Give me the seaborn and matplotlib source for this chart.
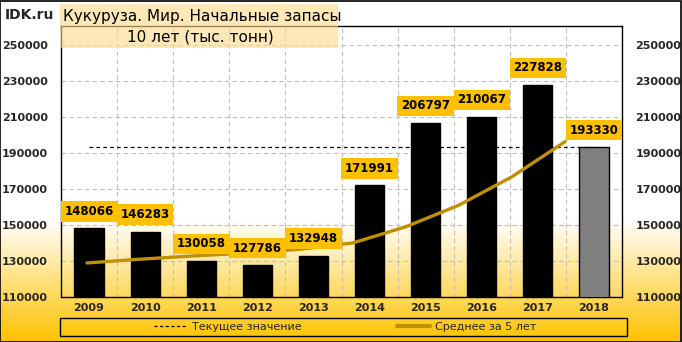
import numpy as np
import matplotlib
matplotlib.use("Agg")
import matplotlib.pyplot as plt
from matplotlib.colors import LinearSegmentedColormap
from matplotlib.patches import Rectangle
from matplotlib.lines import Line2D
import seaborn as sns

# === Data ===
years = ["2009", "2010", "2011", "2012", "2013", "2014", "2015", "2016", "2017", "2018"]
stocks = [148066, 146283, 130058, 127786, 132948, 171991, 206797, 210067, 227828, 193330]
ma5 = [128900, 131000, 132800, 134400, 136500, 140000, 149000, 161000, 176800, 196300]
current_value = 193330
y_ticks = [110000, 130000, 150000, 170000, 190000, 210000, 230000, 250000]

BAR_BLACK = "#000000"
BAR_GRAY = "#808080"
GOLD = "#BF9000"
LABEL_BG = "#FFC000"

sns.set_style("white")
plt.rcParams["font.family"] = ["DejaVu Sans"]

fig = plt.figure(figsize=(6.82, 3.42), dpi=100)

# === Background gradient (white -> amber toward the bottom) ===
bg = fig.add_axes([0, 0, 1, 1], zorder=-10)
frac = np.linspace(0, 1, 342)
shade = np.clip((frac - 0.64) / 0.36, 0, 1) ** 1.0
cmap = LinearSegmentedColormap.from_list("bg", ["#FFFFFF", "#FFC200"])
bg.imshow(shade[:, None], aspect="auto", cmap=cmap, vmin=0, vmax=1, extent=[0, 1, 0, 1])
bg.axis("off")
fig.patches.append(Rectangle((0.0005, 0.001), 0.998, 0.997, transform=fig.transFigure,
                             fill=False, edgecolor="black", lw=1.2))

# === Main axes ===
ax = fig.add_axes([61 / 682, 45 / 342, 561 / 682, 271 / 342])
ax.set_facecolor("none")

colors = {y: BAR_BLACK for y in years}
colors[years[-1]] = BAR_GRAY
sns.barplot(x=years, y=stocks, hue=years, palette=colors, legend=False,
            width=0.52, edgecolor="black", linewidth=1, ax=ax, zorder=3)

ax.hlines(current_value, 0, len(years) - 1, colors="black", linestyles=(0, (3, 2.5)),
          lw=0.9, zorder=2)

ax.set_xlim(-0.5, len(years) - 0.5)
ax.set_ylim(110000, 260500)
ax.set_yticks(y_ticks)
ax.set_yticklabels([str(v) for v in y_ticks])
ax.set_xticks(range(len(years)))
ax.set_xticklabels(years)
ax.set_xticks(np.arange(len(years) + 1) - 0.5, minor=True)
ax.tick_params(axis="y", which="both", length=0, pad=9.5, labelright=True,
               labelsize=8)
ax.tick_params(axis="x", which="both", length=0, pad=4.5, labelsize=8)
for lab in ax.get_xticklabels() + ax.get_yticklabels():
    lab.set_fontweight("bold")
for t in ax.yaxis.get_major_ticks():
    t.label2.set_fontweight("bold")
ax.grid(axis="y", which="major", color="#BFBFBF", ls=(0, (4, 3)), lw=0.8, zorder=0)
ax.grid(axis="x", which="minor", color="#BFBFBF", ls=(0, (4, 3)), lw=0.8, zorder=0)
ax.set_axisbelow(True)
ax.set_xlabel("")
ax.set_ylabel("")
for s in ax.spines.values():
    s.set_color("black")
    s.set_linewidth(1)

# === 5-year average on a secondary x scale ===
ax2 = ax.twiny()
sns.lineplot(x=range(len(ma5)), y=ma5, color=GOLD, lw=2.4, ax=ax2, zorder=4)
ax2.set_xlim(-0.49, 10.07)
ax2.set_ylim(ax.get_ylim())
ax2.set_xticks([])
ax2.set_xlabel("")
for s in ax2.spines.values():
    s.set_visible(False)

# === Value labels ===
for i, v in enumerate(stocks):
    ax2.annotate(f"{v}", xy=(i, v), xycoords=ax.transData, xytext=(0, 7.5),
                 textcoords="offset points", ha="center", va="bottom",
                 fontsize=8.5, fontweight="bold", color="black", zorder=6,
                 bbox=dict(boxstyle="square,pad=0.32", fc=LABEL_BG, ec="none"))

# === Title ===
fig.text(5 / 682, 1 - 15 / 342, "IDK.ru", fontsize=10, fontweight="bold", va="center",
         zorder=7)
fig.patches.append(Rectangle((60 / 682, 1 - 48 / 342), 278 / 682, 44 / 342,
                             transform=fig.transFigure, fc="#FFD98A", alpha=0.6,
                             ec="none", zorder=5))
fig.text(63 / 682, 1 - 16 / 342, "Кукуруза. Мир. Начальные запасы", fontsize=11,
         va="center", ha="left", color="black", zorder=7)
fig.text(200 / 682, 1 - 37 / 342, "10 лет (тыс. тонн)", fontsize=11,
         va="center", ha="center", color="black", zorder=7)

# === Legend ===
fig.patches.append(Rectangle((60 / 682, 1 - 336 / 342), 567 / 682, 18 / 342,
                             transform=fig.transFigure, fill=False, ec="black", lw=1))
handles = [Line2D([], [], color="black", ls=(0, (2.5, 2)), lw=0.9),
           Line2D([], [], color=GOLD, lw=3)]
fig.legend(handles, ["Текущее значение", "Среднее за 5 лет"], ncol=2,
           loc="center", bbox_to_anchor=(345 / 682, 1 - 327 / 342), frameon=False,
           fontsize=8, handlelength=3, handletextpad=0.4, columnspacing=8.6)

fig.savefig("out.png", dpi=100)
